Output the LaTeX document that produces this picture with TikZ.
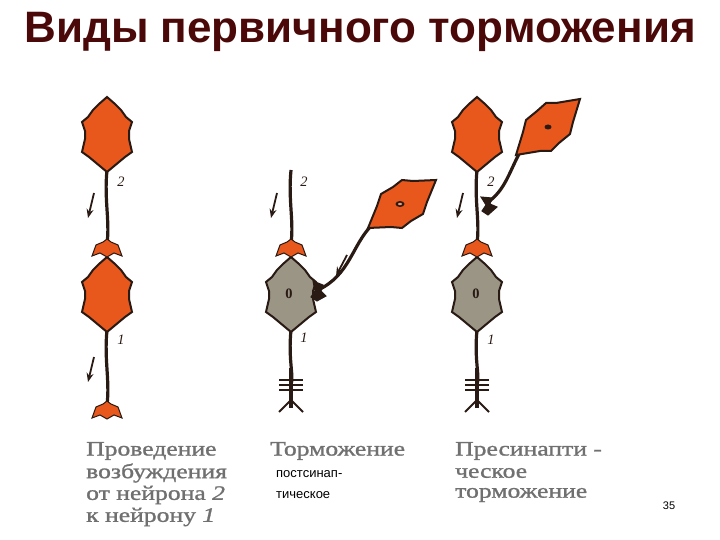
\documentclass[tikz,border=0pt]{standalone}
\usepackage{fontspec}
\setmainfont{Liberation Serif}
\newfontfamily\arialf{Liberation Sans}
\newfontfamily\capf[FakeStretch=1.25,FakeBold=1.2]{Liberation Serif}
\usetikzlibrary{arrows.meta}
\definecolor{org}{HTML}{E8571B}
\definecolor{gry}{HTML}{9A9585}
\definecolor{ink}{HTML}{2A1A14}
\definecolor{capc}{HTML}{707070}
\definecolor{ttl}{HTML}{4A0808}
\tikzset{
 cellp/.pic={\path[draw=ink,line width=2pt,fill=#1] (0,-37)--(8,-30)--(14,-24)--(19,-17)--(25,-12)--(22,-3)--(22,5)--(25,18)--(18,23)--(12,28)--(6,33)--(0,38)--(-6,33)--(-12,28)--(-18,23)--(-25,18)--(-22,5)--(-22,-3)--(-25,-12)--(-19,-17)--(-14,-24)--(-8,-30)--cycle;},
 sidecell/.style={draw=ink,line width=2pt,fill=org},
 axon/.style={draw=ink,line width=3.2pt},
 lab/.style={font=\itshape\Large,text=ink},
 arr/.style={draw=ink,line width=1.8pt,-{Stealth[length=9pt,width=7pt]}},
 captxt/.style={font=\capf\fontsize{20.5}{22}\selectfont,text=capc,anchor=west,inner sep=0pt},
 bout/.style={fill=org,draw=ink,line width=1pt},
 inh/.style={fill=ink,draw=ink,line width=1pt},
}
\newcommand\bouton[2]{\path[bout] (#1-15,#2+8)--(#1-11,#2-3)--(#1-4,#2-6)--(#1,#2-9)--(#1+4,#2-6)--(#1+11,#2-3)--(#1+15,#2+8)--(#1+7,#2+5)--(#1,#2+9)--(#1-7,#2+5)--cycle;}
\newcommand\axend[2]{%
 \draw[axon] (#1,#2-32)--(#1,#2+8);
 \foreach \d in {0,5,10}{\draw[ink,line width=1.6pt] (#1-12,#2-20+\d)--(#1+12,#2-20+\d);}
 \draw[ink,line width=2pt] (#1-12,#2+12)--(#1,#2)--(#1+12,#2+12);}
\begin{document}
\begin{tikzpicture}[x=1pt,y=-1pt]
\useasboundingbox (0,0) rectangle (720,540);
\fill[white] (0,0) rectangle (720,540);
\node[font=\arialf\bfseries\fontsize{44}{46}\selectfont,text=ttl] (title) at (360,32) {Виды первичного торможения};
% column 1
\draw[axon] (107,170) .. controls (104,200) and (110,220) .. (107,244);
\draw[axon] (107,330) .. controls (104,360) and (110,380) .. (107,405);
\pic at (107,134) {cellp=org};
\pic at (107,294) {cellp=org};
\bouton{107}{248}
\bouton{107}{410}
\node[lab] (c1n2) at (121,182) {2};
\node[lab] (c1n1) at (121,340) {1};
\draw[arr] (94,193)--(88,218);
\draw[arr] (94,357)--(88,382);
% column 2
\draw[axon] (372,225) .. controls (352,245) and (350,275) .. (318,290);
\path[sidecell] (436,180)--(427,202)--(423,214)--(411,221)--(402,228)--(391,227)--(368,228)--(377,206)--(381,194)--(393,187)--(402,180)--(413,181)--cycle;
\fill[ink] (400,204) ellipse (4.5 and 3);
\fill[org!60!white] (400,204) ellipse (2 and 1.2);
\draw[axon] (291,170) .. controls (288,200) and (294,220) .. (291,244);
\draw[axon] (291,330) .. controls (288,360) and (294,375) .. (291,385);
\axend{291}{400}
\pic at (291,294) {cellp=gry};
\bouton{291}{248}
\path[inh] (313,281)--(323,285)--(321,291)--(326,296)--(317,301)--(311,297)--(315,291)--cycle;
\node[font=\bfseries\Large,text=ink] (c2o) at (289,294) {0};
\node[lab] (c2n2) at (304,182) {2};
\node[lab] (c2n1) at (304,338) {1};
\draw[arr] (277,193)--(271,218);
\draw[arr] (347,255)--(336,276);
% column 3
\draw[axon] (520,152) .. controls (508,175) and (505,190) .. (487,203);
\path[sidecell] (580,99)--(573,122)--(570,134)--(559,143)--(551,151)--(540,151)--(516,155)--(523,132)--(526,120)--(537,111)--(546,103)--(556,103)--cycle;
\fill[ink] (548,127) ellipse (3.5 and 2.5);
\draw[axon] (477,170) .. controls (474,200) and (480,220) .. (477,244);
\draw[axon] (477,330) .. controls (474,360) and (480,375) .. (477,385);
\axend{477}{400}
\pic at (477,134) {cellp=org};
\pic at (477,294) {cellp=gry};
\bouton{477}{248}
\path[inh] (481,197)--(492,198)--(490,204)--(497,207)--(488,215)--(482,211)--(486,205)--cycle;
\node[font=\bfseries\Large,text=ink] (c3o) at (476,294) {0};
\node[lab] (c3n2) at (491,182) {2};
\node[lab] (c3n1) at (491,340) {1};
\draw[arr] (463,193)--(457,218);
% captions
\node[captxt] (k1a) at (86,451) {Проведение};
\node[captxt] (k1b) at (86,473) {возбуждения};
\node[captxt] (k1c) at (86,495) {от нейрона \textit{2}};
\node[captxt] (k1d) at (86,517) {к нейрону \textit{1}};
\node[captxt] (k2a) at (270,451) {Торможение};
\node[anchor=west,inner sep=0pt,font=\arialf\fontsize{13}{15}\selectfont] (k2b) at (276,474) {постсинап-};
\node[anchor=west,inner sep=0pt,font=\arialf\fontsize{13}{15}\selectfont] (k2c) at (276,495) {тическое};
\node[captxt] (k3a) at (455,451) {Пресинапти -};
\node[captxt] (k3b) at (455,473) {ческое};
\node[captxt] (k3c) at (455,495) {торможение};
\node[font=\arialf\fontsize{11}{13}\selectfont] (pg) at (669,506) {35};
\end{tikzpicture}
\end{document}
